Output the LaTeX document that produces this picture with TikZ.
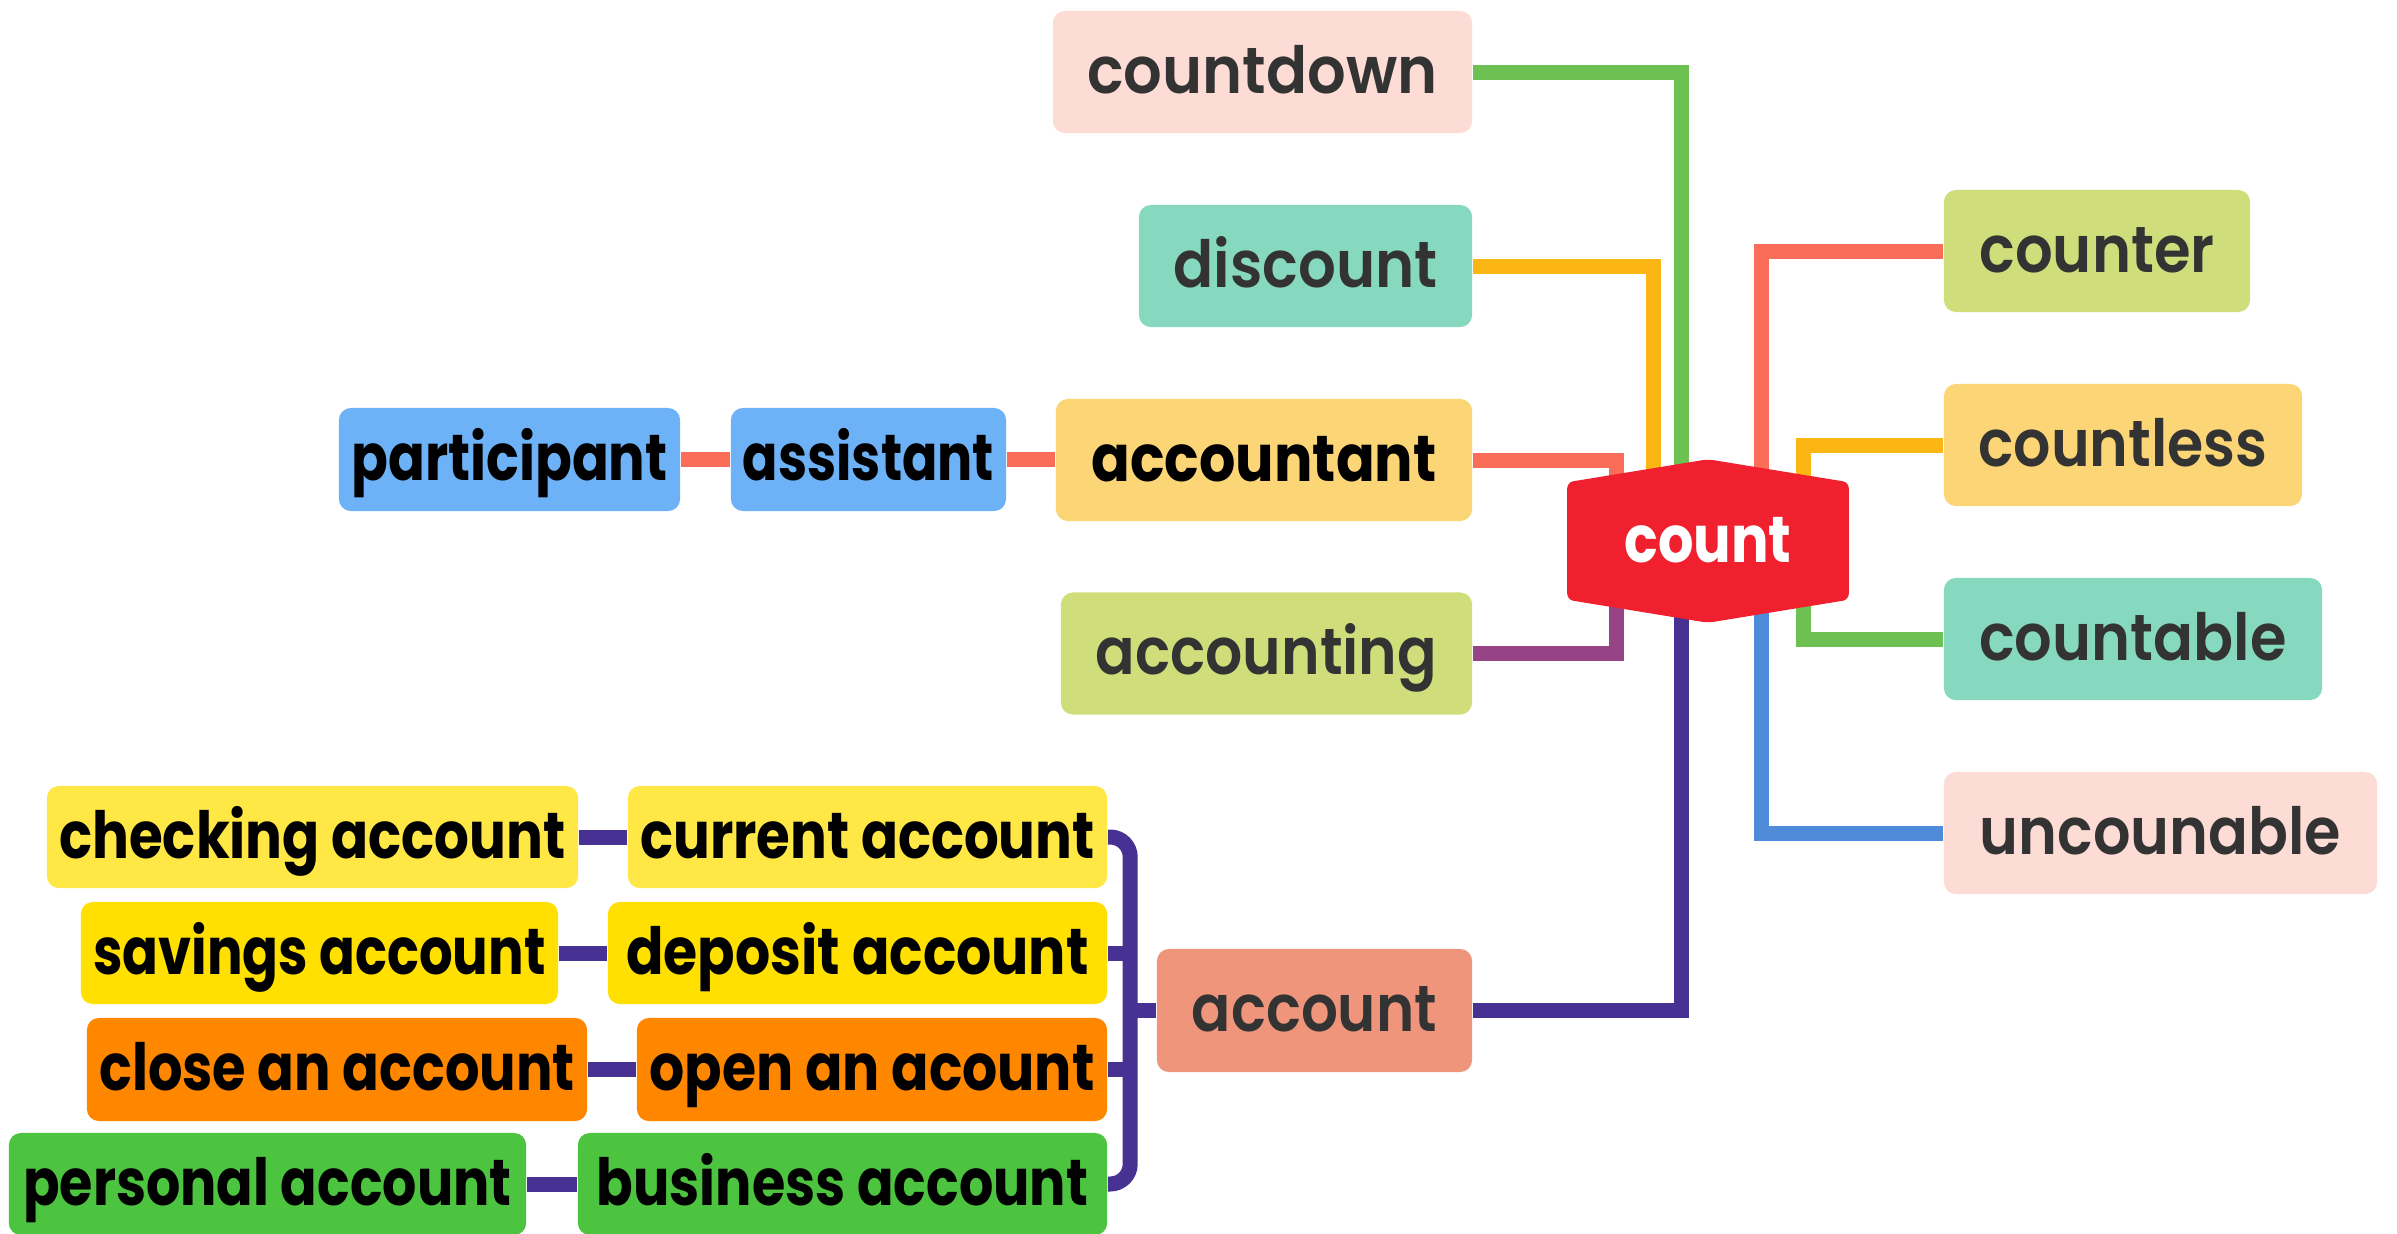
\documentclass[tikz,border=0pt]{standalone}
\usepackage{fontspec}
\setmainfont{Poppins}
\newfontfamily\semib{Poppins SemiBold}
\usepackage{graphicx}
\usetikzlibrary{calc}
\definecolor{tgray}{HTML}{333333}
\definecolor{fPink}{HTML}{FDDCD5}
\definecolor{fMint}{HTML}{86D9BE}
\definecolor{fGold}{HTML}{FCD577}
\definecolor{fLime}{HTML}{CFDE7A}
\definecolor{fBlue}{HTML}{6DB2F6}
\definecolor{fRed}{HTML}{F0202F}
\definecolor{fSalmon}{HTML}{EE957B}
\definecolor{fYelA}{HTML}{FFE845}
\definecolor{fYelB}{HTML}{FFE000}
\definecolor{fOrange}{HTML}{FF8700}
\definecolor{fGreen}{HTML}{4DC43F}
\definecolor{lGreen}{HTML}{6CC152}
\definecolor{lOrange}{HTML}{FBB614}
\definecolor{lSalmon}{HTML}{F96D59}
\definecolor{lPurple}{HTML}{974487}
\definecolor{lIndigo}{HTML}{473193}
\definecolor{lBlue}{HTML}{4F8BD9}
\pgfdeclarelayer{paper}
\pgfdeclarelayer{bg}
\pgfdeclarelayer{hex}
\pgfsetlayers{paper,bg,hex,main}
\newlength\fitlen
\newcommand\fitto[2]{\settowidth\fitlen{#2}\pgfmathsetmacro\fitfac{#1*0.284528/\fitlen}\scalebox{\fitfac}[1]{#2}}
\tikzset{
  box/.style={rounded corners=0.12cm, inner sep=0pt, text height=0.56cm, text depth=0.14cm,
    font=\fontsize{18.5}{20}\selectfont\bfseries, minimum height=1.22cm},
  graybox/.style={box, text=tgray, font=\fontsize{18.5}{20}\selectfont\semib},
  blackbox/.style={box, text=black, minimum height=1.03cm},
  link/.style={line width=0.15cm}
}
\begin{document}
\begin{tikzpicture}[x=0.01cm, y=-0.01cm]
\begin{pgfonlayer}{paper}
\fill[white] (0,0) rectangle (2397,1233);
\end{pgfonlayer}
\useasboundingbox (0,0) rectangle (2397,1233);
% top-left group
\node[graybox, fill=fPink, minimum width=4.19cm] (countdown) at (1262.5,72) {\fitto{350}{countdown}};
\node[graybox, fill=fMint, minimum width=3.33cm] (discount) at (1305.5,266) {\fitto{264}{discount}};
\node[box, text=black, fill=fGold, minimum width=4.16cm] (accountant) at (1264,460) {\fitto{345}{accountant}};
\node[graybox, fill=fLime, minimum width=4.11cm] (accounting) at (1266.5,653.5) {\fitto{341}{accounting}};
\node[blackbox, fill=fBlue, minimum width=3.41cm] (participant) at (509.5,459.5) {\fitto{316}{participant}};
\node[blackbox, fill=fBlue, minimum width=2.75cm] (assistant) at (868.5,459.5) {\fitto{251}{assistant}};
% right group
\node[graybox, fill=fLime, minimum width=3.06cm] (counter) at (2097,251) {\fitto{235}{counter}};
\node[graybox, fill=fGold, minimum width=3.58cm] (countless) at (2123,445) {\fitto{289}{countless}};
\node[graybox, fill=fMint, minimum width=3.78cm] (countable) at (2133,639) {\fitto{307}{countable}};
\node[graybox, fill=fPink, minimum width=4.33cm] (uncounable) at (2160.5,833) {\fitto{361}{uncounable}};
% account
\node[graybox, fill=fSalmon, minimum width=3.15cm, minimum height=1.23cm] (account) at (1314.5,1010.5) {\fitto{245}{account}};
% bottom-left group
\node[blackbox, fill=fYelA, minimum width=5.31cm, minimum height=1.02cm] (checking) at (312.5,837) {\fitto{506}{checking account}};
\node[blackbox, fill=fYelA, minimum width=4.79cm, minimum height=1.02cm] (current) at (867.5,837) {\fitto{454}{current account}};
\node[blackbox, fill=fYelB, minimum width=4.77cm, minimum height=1.02cm] (savings) at (319.5,953) {\fitto{452}{savings account}};
\node[blackbox, fill=fYelB, minimum width=4.99cm, minimum height=1.02cm] (deposit) at (857.5,953) {\fitto{462}{deposit account}};
\node[blackbox, fill=fOrange, minimum width=5.00cm] (close) at (337,1069.5) {\fitto{475}{close an account}};
\node[blackbox, fill=fOrange, minimum width=4.70cm] (open) at (872,1069.5) {\fitto{445}{open an acount}};
\node[blackbox, fill=fGreen, minimum width=5.17cm, minimum height=1.02cm] (personal) at (267.5,1184) {\fitto{488}{personal account}};
\node[blackbox, fill=fGreen, minimum width=5.29cm, minimum height=1.02cm] (business) at (842.5,1184) {\fitto{491}{business account}};
% central hexagon
\node[inner sep=0pt, minimum width=2.8cm, minimum height=1.62cm, text=white,
  font=\fontsize{18.5}{20}\selectfont\bfseries, text height=0.56cm, text depth=0.14cm] (count) at (1708,541) {\fitto{167}{count}};
\begin{pgfonlayer}{hex}
\fill[fRed, rounded corners=0.06cm] ($(count.north west)+(0,23)$) -- (count.north) -- ($(count.north east)+(0,23)$)
  -- ($(count.south east)+(0,-23)$) -- (count.south) -- ($(count.south west)+(0,-23)$) -- cycle;
\end{pgfonlayer}
\begin{pgfonlayer}{bg}
\draw[link, lGreen] (countdown.east) -| ($(count)+(-27,0)$);
\draw[link, lOrange] (discount.east) -| ($(count)+(-55,0)$);
\draw[link, lSalmon] (accountant.east) -| ($(count)+(-92,0)$);
\draw[link, lPurple] (accounting.east) -| ($(count)+(-92,0)$);
\draw[link, lIndigo] (account.east) -| ($(count)+(-27,0)$);
\draw[link, lSalmon] (participant.east) -- (assistant.west);
\draw[link, lSalmon] (assistant.east) -- (assistant.east -| accountant.west);
\draw[link, lSalmon] ($(count)+(53,0)$) |- (counter.west);
\draw[link, lOrange] ($(count)+(95,0)$) |- (countless.west);
\draw[link, lGreen] ($(count)+(95,0)$) |- (countable.west);
\draw[link, lBlue] ($(count)+(53,0)$) |- (uncounable.west);
\coordinate (bk) at ($(account.west)+(-26,0)$);
\draw[link, lIndigo, rounded corners=0.2cm] (current.east) -| (bk) |- (business.east);
\draw[link, lIndigo] (deposit.east) -- (deposit.east -| bk);
\draw[link, lIndigo] (open.east) -- (open.east -| bk);
\draw[link, lIndigo] (bk) -- (account.west);
\draw[link, lIndigo] (checking.east) -- (current.west);
\draw[link, lIndigo] (savings.east) -- (deposit.west);
\draw[link, lIndigo] (close.east) -- (open.west);
\draw[link, lIndigo] (personal.east) -- (business.west);
\end{pgfonlayer}
\end{tikzpicture}
\end{document}
